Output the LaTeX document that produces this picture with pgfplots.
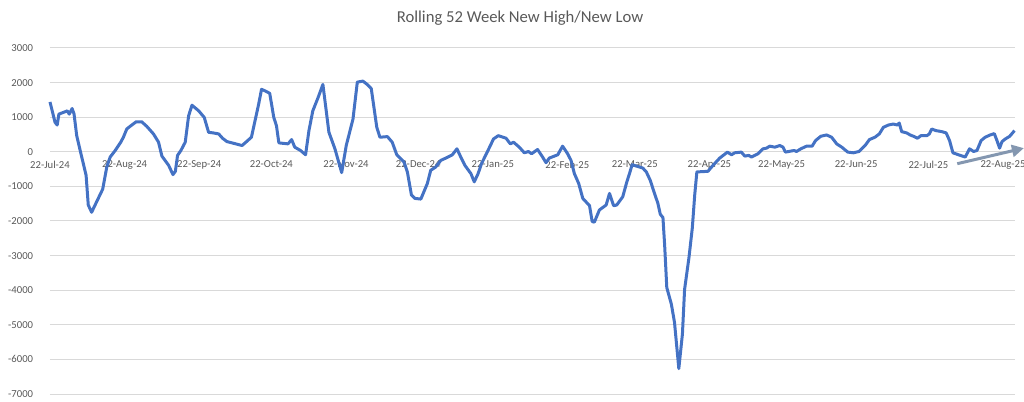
\documentclass[border=0pt]{standalone}
\usepackage{pgfplots}
\pgfplotsset{compat=1.18}
\usepackage{fontspec}
\setmainfont{Carlito}
\usetikzlibrary{arrows.meta}
\definecolor{exblue}{HTML}{4472C4}
\definecolor{txtgray}{HTML}{595959}
\definecolor{gridgray}{HTML}{D9D9D9}
\definecolor{arrowgray}{HTML}{8497B0}
\begin{document}
\begin{tikzpicture}
% picture size: 1px = 0.75pt
\path[use as bounding box] (-37.5pt,-5.25pt) rectangle (730.5pt,295.5pt);
\begin{axis}[
    at={(0,0)}, anchor=south west,
    scale only axis,
    width=723.75pt, height=259.5pt,
    xmin=0, xmax=401,
    ymin=-7000, ymax=3000,
    clip=false,
    axis x line=middle, axis y line=left,
    axis line style={draw=none},
    tick style={draw=none},
    hide obscured x ticks=false,
    ymajorgrids=true,
    grid style={gridgray, line width=0.75pt},
    ytick={-7000,-6000,...,3000},
    xtick={0,31,62,92,123,153,184,215,243,274,304,335,365,396},
    xticklabels={22-Jul-24,22-Aug-24,22-Sep-24,22-Oct-24,22-Nov-24,22-Dec-24,22-Jan-25,22-Feb-25,22-Mar-25,22-Apr-25,22-May-25,22-Jun-25,22-Jul-25,22-Aug-25},
    /pgf/number format/assume math mode=true,
    /pgf/number format/1000 sep={},
    tick label style={font=\fontsize{8}{9.5}\selectfont, text=txtgray},
    yticklabel style={xshift=-7pt},
    xticklabel style={yshift=-1pt},
]
\addplot[exblue, line width=2.25pt, line join=round] coordinates {
(0,1441)(2.1,851)(3.0,774)(3.7,1089)(5.5,1137)(7.2,1183)(8.0,1089)(9.2,1251)(10.0,1089)
(11.1,467)(12.7,-9)(15.0,-679)(15.9,-1538)(17.3,-1748)(19.4,-1441)(21.9,-1080)(23.6,-438)
(25.0,-152)(27.1,38)(29.4,278)(30.5,421)(31.9,659)(33.6,753)(35.8,868)(38.1,868)(40.2,736)
(43.0,516)(45.1,278)(46.5,-124)(49.3,-392)(51.1,-659)(52.1,-564)(53.0,-105)(54.4,38)
(56.2,278)(57.6,1040)(59.0,1347)(61.8,1183)(64.1,993)(65.9,564)(68.0,544)
(70.1,516)(71.7,392)(73.5,296)(77.7,220)(79.8,181)(81.4,278)(83.7,421)(86.7,1375)(87.9,1805)
(89.5,1757)(91.3,1690)(93.0,993)(94.1,754)(95.1,258)(98.9,229)(100.4,353)(101.7,134)
(104.1,38)(106.2,-86)(107.6,611)(109.2,1183)(111.4,1566)(113.4,1948)(115.9,564)(118.4,86)
(121.2,-602)(123.1,181)(125.9,945)(127.7,2014)(130.0,2043)(131.8,1948)(133.5,1825)
(135.8,707)(137.1,421)(140.2,439)(142.2,278)(144.1,-86)(147.1,-296)(148.5,-582)(150.2,-1251)
(151.6,-1347)(154.1,-1366)(156.8,-917)(158.2,-535)(160.3,-438)(162.4,-248)(164.5,-181)
(167.2,-86)(169.1,86)(170.7,-152)(172.4,-392)(174.9,-630)(176.3,-869)(177.9,-630)(179.3,-344)
(181.8,9)(184.3,372)(186.3,467)(189.5,392)(191.3,229)(192.6,278)(195.0,134)(197.1,-29)
(198.8,9)(200.1,-57)(202.6,66)(204.7,-152)(206.1,-315)(207.5,-181)(211.0,-86)(213.0,163)
(215.1,-57)(216.5,-248)(217.9,-630)(219.7,-917)(221.4,-1347)(224.2,-1557)(225.3,-2015)
(226.2,-2034)(228.3,-1681)(231.1,-1538)(232.5,-1203)(234.2,-1557)(235.5,-1538)(238.0,-1299)
(239.7,-869)(240.8,-630)(241.9,-372)(243.6,-411)(246.3,-468)(247.8,-582)(249.4,-821)
(251.2,-1203)(252.6,-1490)(253.6,-1805)(254.7,-1900)(255.4,-2684)(256.3,-3925)(258.2,-4403)
(259.5,-4928)(261.3,-6266)(262.8,-5263)(263.7,-3974)(265.5,-3066)(266.9,-2206)(267.9,-1252)
(268.8,-582)(273.4,-564)(275.5,-392)(278.3,-181)(281.5,-9)(283.2,-86)(284.5,-29)(287.3,-9)
(288.7,-124)(290.4,-105)(291.5,-152)(294.2,-57)(296.3,86)(297.7,105)(299.1,163)(301.2,134)
(303.3,181)(304.6,134)(305.6,-9)(309.2,38)(310.2,9)(312.0,86)(314.4,163)(316.7,163)
(318.1,324)(320.3,449)(322.7,487)(324.8,421)(326.9,229)(329.0,134)(331.5,-9)(333.8,-29)
(336.2,9)(338.7,181)(340.5,353)(342.8,421)(344.6,516)(346.3,707)(348.4,774)(350.4,802)
(352.1,774)(352.9,831)(353.9,583)(356.0,545)(357.4,487)(358.8,449)(360.5,392)(361.9,467)
(364.4,467)(365.4,516)(366.4,659)(368.2,611)(370.6,583)(372.4,545)(373.8,324)(375.2,-29)
(377.5,-86)(380.3,-152)(382.1,86)(383.8,9)(385.2,38)(386.9,324)(388.6,421)(390.7,487)
(392.4,525)(393.5,324)(394.6,105)(395.6,296)(397.0,372)(398.8,449)(400.2,564)(400.8,611)
};
\draw[arrowgray, line width=2.25pt, -{Triangle[length=9pt,width=9pt]}]
    (axis cs:377,-344) -- (axis cs:404.7,106);
\end{axis}
\node[text=txtgray, font=\fontsize{12.5}{15}\selectfont] at (352.5pt,282pt) {Rolling 52 Week New High/New Low};
\end{tikzpicture}
\end{document}
